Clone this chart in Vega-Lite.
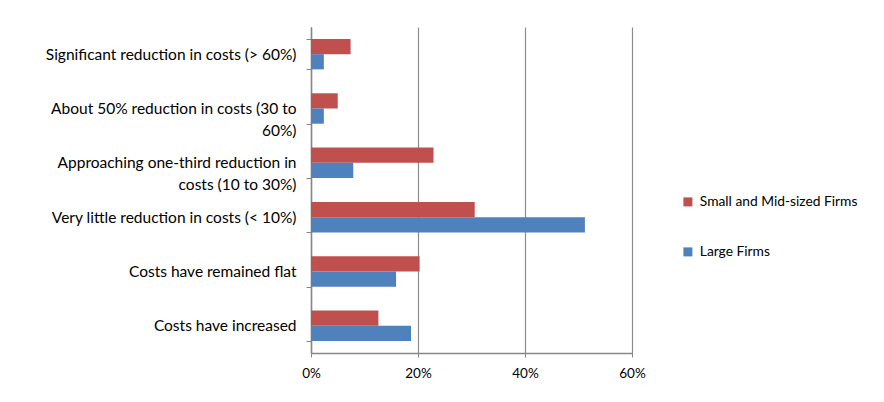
{
  "$schema": "https://vega.github.io/schema/vega-lite/v6.json",
  "autosize": {"type": "none"},
  "padding": {"left": 311, "top": 27, "right": 252, "bottom": 49},
  "width": 321,
  "height": 326,
  "background": "white",
  "config": {
    "font": "Lato",
    "view": {"stroke": null}
  },
  "data": {
    "values": [
      {"outcome": "Significant reduction in costs (> 60%)", "firm": "Small and Mid-sized Firms", "share": 0.074},
      {"outcome": "Significant reduction in costs (> 60%)", "firm": "Large Firms", "share": 0.024},
      {"outcome": "About 50% reduction in costs (30 to|60%)", "firm": "Small and Mid-sized Firms", "share": 0.050},
      {"outcome": "About 50% reduction in costs (30 to|60%)", "firm": "Large Firms", "share": 0.024},
      {"outcome": "Approaching one-third reduction in|costs (10 to 30%)", "firm": "Small and Mid-sized Firms", "share": 0.229},
      {"outcome": "Approaching one-third reduction in|costs (10 to 30%)", "firm": "Large Firms", "share": 0.079},
      {"outcome": "Very little reduction in costs (< 10%)", "firm": "Small and Mid-sized Firms", "share": 0.306},
      {"outcome": "Very little reduction in costs (< 10%)", "firm": "Large Firms", "share": 0.512},
      {"outcome": "Costs have remained flat", "firm": "Small and Mid-sized Firms", "share": 0.203},
      {"outcome": "Costs have remained flat", "firm": "Large Firms", "share": 0.159},
      {"outcome": "Costs have increased", "firm": "Small and Mid-sized Firms", "share": 0.126},
      {"outcome": "Costs have increased", "firm": "Large Firms", "share": 0.187}
    ]
  },
  "mark": {"type": "bar"},
  "encoding": {
    "y": {
      "field": "outcome",
      "type": "nominal",
      "sort": null,
      "scale": {"paddingInner": 0.44, "paddingOuter": 0.22},
      "axis": {
        "title": null,
        "labelExpr": "split(datum.label, '|')",
        "labelFontSize": 15.5,
        "labelColor": "#000000",
        "labelLineHeight": 22,
        "labelPadding": 10,
        "labelLimit": 320,
        "tickBand": "extent",
        "tickSize": 5,
        "tickColor": "#868686",
        "domainColor": "#868686",
        "domainWidth": 1.5,
        "grid": false
      }
    },
    "yOffset": {
      "field": "firm",
      "type": "nominal",
      "sort": ["Small and Mid-sized Firms", "Large Firms"]
    },
    "x": {
      "field": "share",
      "type": "quantitative",
      "scale": {"domain": [0, 0.6], "nice": false},
      "axis": {
        "title": null,
        "format": ".0%",
        "values": [0, 0.2, 0.4, 0.6],
        "labelFlush": false,
        "labelFontSize": 13.5,
        "labelColor": "#000000",
        "labelPadding": 9,
        "tickSize": 4,
        "tickColor": "#868686",
        "domainColor": "#868686",
        "domainWidth": 1.5,
        "gridColor": "#8c8c8c",
        "gridWidth": 1.2
      }
    },
    "color": {
      "field": "firm",
      "type": "nominal",
      "scale": {
        "domain": ["Small and Mid-sized Firms", "Large Firms"],
        "range": ["#C0504D", "#4F81BD"]
      },
      "legend": {
        "title": null,
        "orient": "none",
        "legendX": 370,
        "legendY": 168,
        "symbolType": "square",
        "symbolSize": 81,
        "symbolStrokeWidth": 0,
        "labelFontSize": 13.8,
        "labelColor": "#000000",
        "labelOffset": 5,
        "rowPadding": 35,
        "padding": 0
      }
    }
  }
}
